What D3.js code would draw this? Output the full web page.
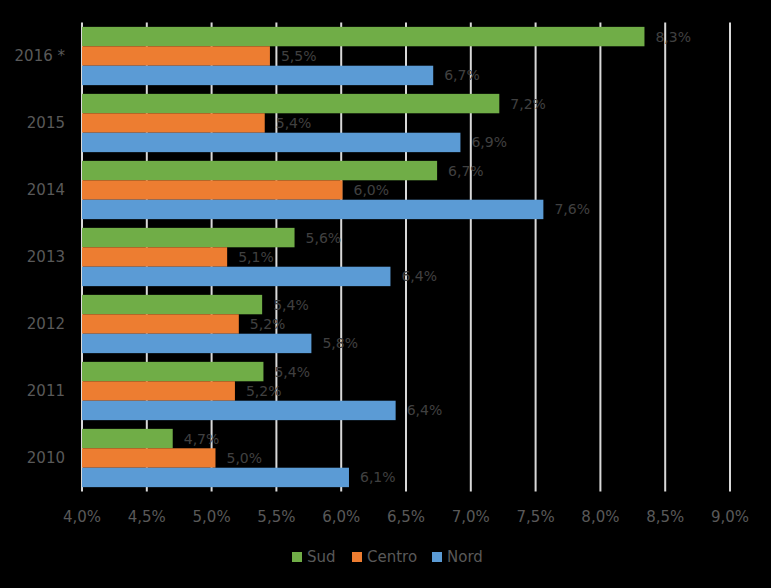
<!DOCTYPE html>
<html>
<head>
<meta charset="utf-8">
<script src="https://cdn.jsdelivr.net/npm/d3@7"></script>
<style>
html,body{margin:0;padding:0;background:#000;}
svg{display:block;font-family:"DejaVu Sans","Open Sans",sans-serif;}
</style>
</head>
<body>
<svg id="chart" width="771" height="588"></svg>
<script>
const categories = ["2016 *","2015","2014","2013","2012","2011","2010"];
const seriesNames = ["Sud","Centro","Nord"];
const sud    = [8.34, 7.22, 6.74, 5.64, 5.39, 5.40, 4.70];
const centro = [5.45, 5.41, 6.01, 5.12, 5.21, 5.18, 5.03];
const nord   = [6.71, 6.92, 7.56, 6.38, 5.77, 6.42, 6.06];
const xTicks = [4.0,4.5,5.0,5.5,6.0,6.5,7.0,7.5,8.0,8.5,9.0];
const colors = ["#70ad47","#ed7d31","#5b9bd5"];

const seriesValues = [sud, centro, nord];
const svg = d3.select("#chart");
const pLeft = 82, pRight = 730, pTop = 22.5, pBottom = 491.5;

const x = d3.scaleLinear().domain([4, 9]).range([pLeft, pRight]);
const y = d3.scaleBand().domain(categories).range([pTop, pBottom]).paddingInner(0.13).paddingOuter(0.065);
const ySub = d3.scaleBand().domain(seriesNames).range([0, y.bandwidth()]);
const fmt = v => v.toFixed(1).replace(".", ",") + "%";

// gridlines
svg.append("g").selectAll("line").data(xTicks).join("line")
  .attr("x1", d => x(d)).attr("x2", d => x(d))
  .attr("y1", pTop).attr("y2", pBottom)
  .attr("stroke", "#d9d9d9").attr("stroke-width", 2);

// bars
const groups = svg.append("g").selectAll("g").data(categories).join("g")
  .attr("transform", c => `translate(0,${y(c)})`);
groups.each(function(c, i) {
  const g = d3.select(this);
  seriesNames.forEach((s, j) => {
    const v = seriesValues[j][i];
    g.append("rect")
      .attr("x", x(4)).attr("y", ySub(s))
      .attr("width", x(v) - x(4)).attr("height", ySub.bandwidth())
      .attr("fill", colors[j]);
  });
});
groups.each(function(c, i) {
  const g = d3.select(this);
  seriesNames.forEach((s, j) => {
    const v = seriesValues[j][i];
    g.append("text")
      .attr("x", x(v) + 11).attr("y", ySub(s) + ySub.bandwidth() / 2)
      .attr("dy", "0.36em")
      .attr("fill", "#404040").attr("font-size", 14)
      .text(fmt(v));
  });
});

// category labels
svg.append("g").selectAll("text").data(categories).join("text")
  .attr("x", 65).attr("y", c => y(c) + y.bandwidth() / 2)
  .attr("dy", "0.36em").attr("text-anchor", "end")
  .attr("fill", "#595959").attr("font-size", 15)
  .text(c => c);

// x tick labels
svg.append("g").selectAll("text").data(xTicks).join("text")
  .attr("x", d => x(d)).attr("y", 517).attr("dy", "0.36em")
  .attr("text-anchor", "middle").attr("fill", "#595959").attr("font-size", 15)
  .text(d => fmt(d));

// legend
const legendX = [292, 352, 432];
const leg = svg.append("g").selectAll("g").data(seriesNames).join("g")
  .attr("transform", (d, i) => `translate(${legendX[i]},557)`);
leg.append("rect").attr("x", 0).attr("y", -5).attr("width", 10).attr("height", 10)
  .attr("fill", (d, i) => colors[i]);
leg.append("text").attr("x", 15).attr("y", 0).attr("dy", "0.36em")
  .attr("fill", "#595959").attr("font-size", 15).text(d => d);
</script>
</body>
</html>
